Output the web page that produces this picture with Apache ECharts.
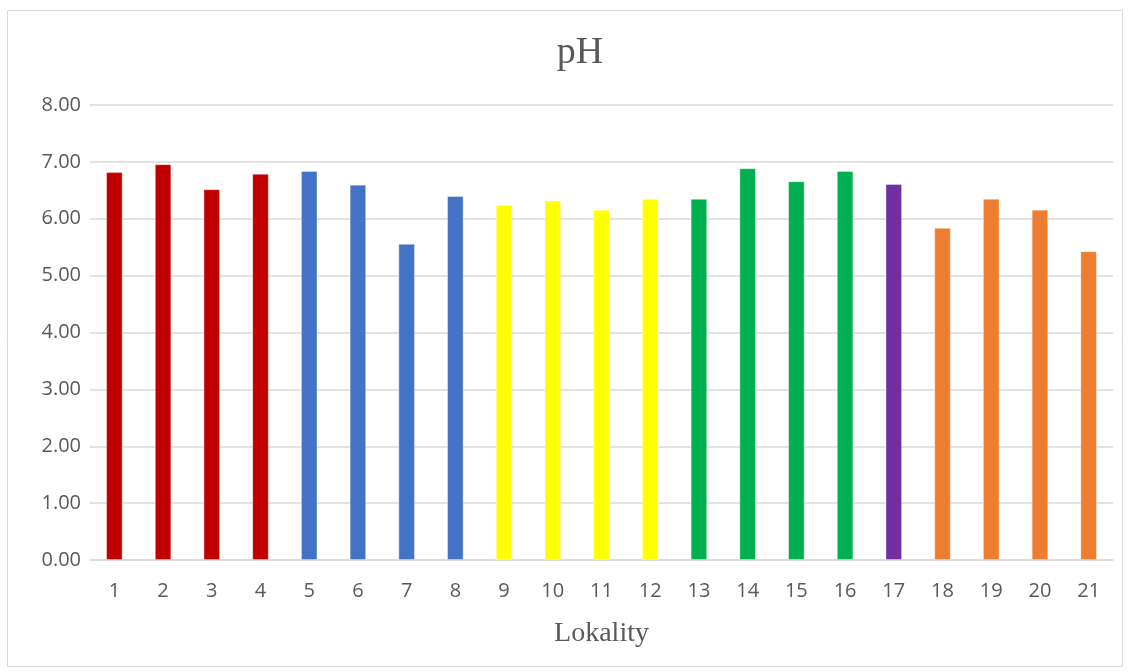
<!DOCTYPE html>
<html>
<head>
<meta charset="utf-8">
<script src="https://cdn.jsdelivr.net/npm/echarts@6/dist/echarts.min.js"></script>
<style>
  html, body { margin: 0; padding: 0; background: #fff; }
  #container { width: 1131px; height: 672px; }
</style>
</head>
<body>
<div id="container"></div>
<script>
var dom = document.getElementById('container');
var myChart = echarts.init(dom, null, { renderer: 'canvas' });

// data
var lokality = ['1', '2', '3', '4', '5', '6', '7', '8', '9', '10', '11',
    '12', '13', '14', '15', '16', '17', '18', '19', '20', '21'];
var phValues = [6.82, 6.96, 6.52, 6.79, 6.84, 6.60, 5.56, 6.40, 6.24, 6.32, 6.16,
    6.35, 6.35, 6.89, 6.66, 6.84, 6.61, 5.84, 6.35, 6.16, 5.43];
// which colour group each lokalita belongs to
var groupOf = [0, 0, 0, 0, 1, 1, 1, 1, 2, 2, 2, 2, 3, 3, 3, 3, 4, 5, 5, 5, 5];

var groupColors = ['#c00000', '#4472c4', '#ffff00', '#00b050', '#7030a0', '#ed7d31'];

var barData = phValues.map(function (v, i) {
    return { value: v, itemStyle: { color: groupColors[groupOf[i]] } };
});

var option = {
    title: {
        text: 'pH',
        left: 575,
        top: 29,
        textAlign: 'center',
        textStyle: {
            fontFamily: 'Liberation Serif',
            fontWeight: 'normal',
            fontSize: 38,
            color: '#595959'
        }
    },
    graphic: [{
        type: 'rect',
        shape: { x: 7.5, y: 10.5, width: 1115, height: 656 },
        style: { fill: 'none', stroke: '#d9d9d9', lineWidth: 1 },
        silent: true
    }],
    grid: {
        left: 90,
        right: 18,
        top: 105,
        bottom: 112
    },
    xAxis: {
        type: 'category',
        data: lokality,
        name: 'Lokality',
        nameLocation: 'middle',
        nameGap: 60,
        nameTextStyle: {
            fontFamily: 'Liberation Serif',
            fontSize: 28,
            color: '#595959'
        },
        axisTick: { show: false },
        axisLine: { lineStyle: { color: '#d9d9d9', width: 1.5 } },
        axisLabel: {
            margin: 21,
            fontFamily: 'Open Sans',
            fontSize: 20,
            color: '#595959'
        }
    },
    yAxis: {
        type: 'value',
        min: 0,
        max: 8,
        interval: 1,
        axisLine: { show: false },
        axisTick: { show: false },
        splitLine: { lineStyle: { color: '#d9d9d9', width: 1.5 } },
        axisLabel: {
            margin: 9,
            fontFamily: 'Open Sans',
            fontSize: 20,
            color: '#595959',
            formatter: function (v) { return v.toFixed(2); }
        }
    },
    series: [{
        type: 'bar',
        data: barData,
        barWidth: '34%',
        itemStyle: { borderColor: 'rgba(255,255,255,0.35)', borderWidth: 1 }
    }]
};

myChart.setOption(option);
window.addEventListener('resize', myChart.resize);
</script>
</body>
</html>
